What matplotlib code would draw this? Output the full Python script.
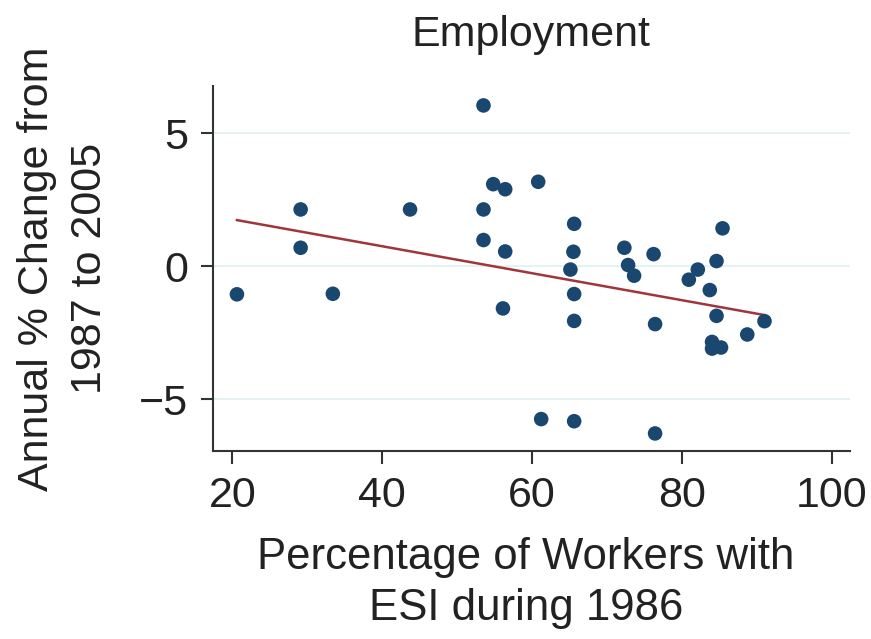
import numpy as np
import matplotlib.pyplot as plt

plt.rcParams['font.family'] = ['Liberation Sans', 'DejaVu Sans']

# share of workers with ESI in 1986 vs annual employment change 1987-2005
esi_share = [20.6, 29.1, 29.1, 33.4, 43.7, 53.5, 53.5, 53.5, 54.8, 56.4,
             56.4, 56.1, 60.8, 61.2, 65.6, 65.5, 65.1, 65.6, 65.6, 65.6,
             72.3, 72.8, 73.6, 76.2, 76.4, 76.4, 80.9, 82.1, 83.7, 84.6,
             85.4, 84.6, 84.0, 84.0, 85.2, 88.7, 91.0]
emp_change = [-1.06, 2.13, 0.69, -1.04, 2.13, 6.04, 2.13, 0.98, 3.08, 2.89,
              0.55, -1.59, 3.17, -5.75, 1.59, 0.54, -0.13, -1.05, -2.06, -5.83,
              0.69, 0.04, -0.36, 0.45, -2.18, -6.29, -0.51, -0.13, -0.90, 0.19,
              1.42, -1.87, -2.85, -3.10, -3.06, -2.57, -2.07]

# fitted line: slope, intercept
fit_coef = [-0.0507, 2.774]

x_ticks = [20, 40, 60, 80, 100]
y_ticks = [-5, 0, 5]

navy = '#1a476f'
maroon = '#a0353b'
ink = '#333333'
text_color = '#222222'
fs = 31

fig = plt.figure(figsize=(8.71, 6.39), dpi=100)
ax = fig.add_axes([0.2445, 0.2942, 0.7313, 0.5712])

x = np.array(esi_share)
y = np.array(emp_change)
xs = np.array([x.min(), x.max()])

for yt in y_ticks:
    ax.axhline(yt, color='#e4f2f4', lw=1.5, zorder=0)

ax.scatter(x, y, s=110, color=navy, edgecolors='none', zorder=3)
ax.plot(xs, np.polyval(fit_coef, xs), color=maroon, lw=1.8, zorder=2)

ax.set_xlim(17.4, 102.4)
ax.set_ylim(-6.95, 6.77)
ax.set_xticks(x_ticks)
ax.set_yticks(y_ticks)

for side in ['top', 'right']:
    ax.spines[side].set_visible(False)
for side in ['left', 'bottom']:
    ax.spines[side].set_color(ink)
    ax.spines[side].set_linewidth(1.5)

ax.tick_params(axis='both', colors=ink, labelcolor=text_color, labelsize=fs,
               length=9, width=1.5, pad=9)

ax.set_title('Employment', fontsize=fs, color=text_color, pad=29)
ax.set_xlabel('Percentage of Workers with\nESI during 1986', fontsize=fs + 0.5,
              color=text_color, linespacing=1.32)
ax.set_ylabel('Annual % Change from\n1987 to 2005', fontsize=fs,
              color=text_color, linespacing=1.4)
ax.xaxis.set_label_coords(0.491, -0.235)
ax.yaxis.set_label_coords(-0.162, 0.5)

fig.savefig('out.png', dpi=100, facecolor='white')
